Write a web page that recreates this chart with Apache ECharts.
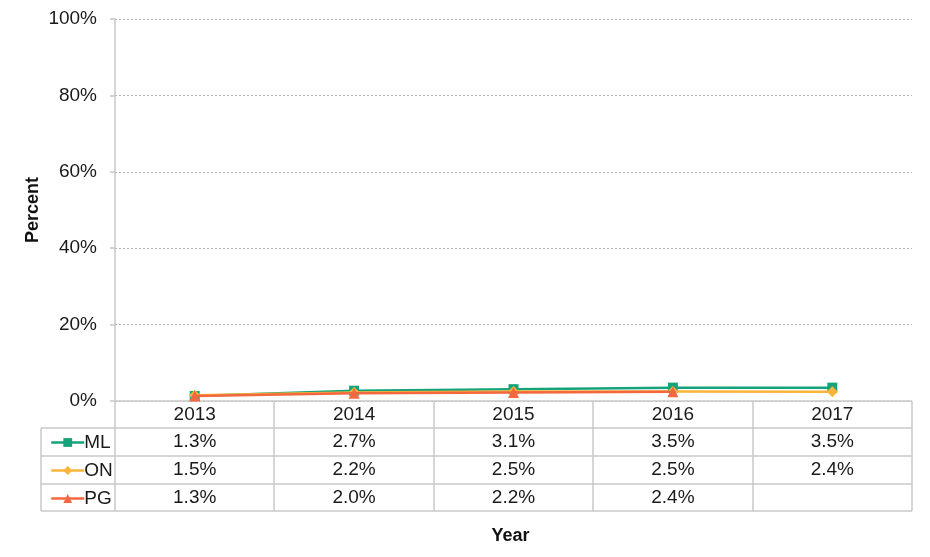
<!DOCTYPE html>
<html>
<head>
<meta charset="utf-8">
<script src="https://cdn.jsdelivr.net/npm/echarts@6/dist/echarts.min.js"></script>
<style>
  html, body { margin: 0; padding: 0; background: #fff; }
  #main { width: 930px; height: 557px; }
</style>
</head>
<body>
<div id="main"></div>
<script>
// data
var years = ['2013', '2014', '2015', '2016', '2017'];
var seriesNames = ['ML', 'ON', 'PG'];
var mlValues = [1.3, 2.7, 3.1, 3.5, 3.5];
var onValues = [1.5, 2.2, 2.5, 2.5, 2.4];
var pgValues = [1.3, 2.0, 2.2, 2.4, null];
var yTicks = [0, 20, 40, 60, 80, 100];

var colors = ['#16A37C', '#F9B53A', '#F4683F'];
var symbols = ['rect', 'diamond', 'triangle'];
var rows = [mlValues, onValues, pgValues];

var FONT = 'Liberation Sans, Arial, sans-serif';
var GRID_L = 115, GRID_R = 912, GRID_T = 19, GRID_B = 401;
var ROW_H = [27, 28, 28, 27];
var LINE_C = '#C8C8C8';

var myChart = echarts.init(document.getElementById('main'));

function fmt(v) {
    return v == null ? '' : v.toFixed(1) + '%';
}

// x axes: one for the years (header row), one per table row
var xAxes = [];
var off = 0;
for (var r = 0; r < 4; r++) {
    var vals = r === 0 ? null : rows[r - 1];
    xAxes.push({
        type: 'category',
        data: years,
        boundaryGap: true,
        position: 'bottom',
        offset: off,
        axisLine: { show: false },
        axisTick: { show: false },
        axisLabel: {
            margin: ROW_H[r] / 2,
            verticalAlign: 'middle',
            fontFamily: FONT,
            fontSize: 19,
            color: '#1a1a1a',
            formatter: (function (vals) {
                return function (v, i) { return vals ? fmt(vals[i]) : v; };
            })(vals)
        }
    });
    off += ROW_H[r];
}

var series = [];
for (var s = 0; s < 3; s++) {
    series.push({
        name: seriesNames[s],
        type: 'line',
        data: rows[s],
        symbol: symbols[s],
        symbolSize: s === 0 ? 10 : 11,
        lineStyle: { width: 2.5, color: colors[s] },
        itemStyle: { color: colors[s] },
        z: 3 + s
    });
}

option = {
    animation: false,
    backgroundColor: '#fff',
    grid: { left: GRID_L, right: 930 - GRID_R, top: GRID_T, bottom: 557 - GRID_B },
    legend: {
        orient: 'vertical',
        left: 45,
        top: 428,
        itemWidth: 33,
        itemHeight: 11,
        itemGap: 9,
        data: seriesNames,
        lineStyle: { width: 2.5 },
        textStyle: { fontFamily: FONT, fontSize: 19, color: '#1a1a1a', padding: [0, 0, 0, -5] }
    },
    xAxis: xAxes,
    yAxis: {
        type: 'value',
        min: yTicks[0],
        max: yTicks[yTicks.length - 1],
        interval: yTicks[1] - yTicks[0],
        name: 'Percent',
        nameLocation: 'middle',
        nameGap: 73,
        nameMoveOverlap: false,
        nameTextStyle: { fontFamily: FONT, fontSize: 18, fontWeight: 'bold', color: '#111' },
        axisLine: { show: true, lineStyle: { color: LINE_C, width: 1.5 } },
        axisTick: { show: true, length: 5, lineStyle: { color: LINE_C, width: 1.5 } },
        axisLabel: { fontFamily: FONT, fontSize: 19, color: '#1a1a1a', margin: 18, formatter: '{value}%' },
        splitLine: { show: true, lineStyle: { color: '#B0B0B0', type: [2, 2], width: 1 } }
    },
    series: series
};
myChart.setOption(option);

// table borders and the x axis title, placed from the grid's pixel positions
var y0 = myChart.convertToPixel({ yAxisIndex: 0 }, 0);
var colW = (GRID_R - GRID_L) / years.length;
var rowY = [y0];
for (var i = 0; i < ROW_H.length; i++) rowY.push(rowY[i] + ROW_H[i]);
var yEnd = rowY[rowY.length - 1];
var tableL = 41;

var g = [];
function line(x1, y1, x2, y2) {
    g.push({ type: 'line', shape: { x1: x1, y1: y1, x2: x2, y2: y2 }, style: { stroke: LINE_C, lineWidth: 1.5 }, silent: true });
}
line(GRID_L, y0, GRID_R, y0);
for (var k = 1; k < rowY.length; k++) line(tableL, rowY[k], GRID_R, rowY[k]);
line(tableL, rowY[1], tableL, yEnd);
line(GRID_L, y0, GRID_L, yEnd);
for (var c = 1; c <= years.length; c++) {
    var xc = Math.round(GRID_L + c * colW);
    line(xc, y0, xc, yEnd);
}
g.push({
    type: 'text', left: (GRID_L + GRID_R) / 2 - 22, top: 527,
    style: { text: 'Year', font: 'bold 18px ' + FONT, fill: '#111' }
});
myChart.setOption({ graphic: g });
</script>
</body>
</html>
